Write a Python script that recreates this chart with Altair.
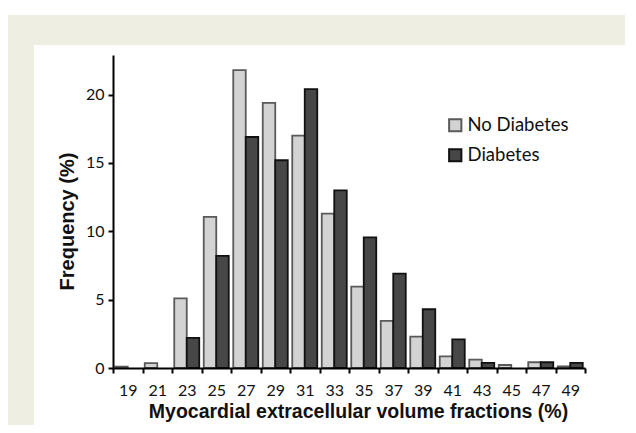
import altair as alt
import pandas as pd

bins = ["19", "21", "23", "25", "27", "29", "31", "33", "35", "37", "39", "41", "43", "45", "47", "49"]
no_diabetes = [0.1, 0.35, 5.1, 11.05, 21.8, 19.4, 17.0, 11.3, 5.95, 3.45, 2.3, 0.85, 0.62, 0.22, 0.42, 0.12]
diabetes = [0.0, 0.0, 2.2, 8.2, 16.9, 15.2, 20.4, 13.0, 9.55, 6.9, 4.3, 2.1, 0.38, 0.0, 0.42, 0.38]
groups = ["No Diabetes", "Diabetes"]

rows = []
for i, b in enumerate(bins):
    rows.append({"bin": b, "group": groups[0], "freq": no_diabetes[i]})
    rows.append({"bin": b, "group": groups[1], "freq": diabetes[i]})
df = pd.DataFrame(rows)

W, H = 472, 313

panel = alt.Chart(pd.DataFrame({"a": [0]})).mark_rect(color="white").encode(
    x=alt.value(-79), x2=alt.value(520), y=alt.value(-10), y2=alt.value(400)
)
topstrip = alt.Chart(pd.DataFrame({"a": [0]})).mark_rect(color="white").encode(
    x=alt.value(-110), x2=alt.value(530), y=alt.value(-50), y2=alt.value(-40)
)

leg = dict(title=None, orient="none", legendX=333, legendY=61,
           symbolType="square", symbolSize=150, symbolStrokeWidth=2,
           labelFont="Lato", labelFontSize=18.5, labelColor="#111",
           rowPadding=9, labelOffset=3)

bars = alt.Chart(df).transform_filter("datum.freq > 0").mark_bar(strokeWidth=1.8).encode(
    x=alt.X("bin:N", sort=bins,
            scale=alt.Scale(domain=bins, paddingInner=0, paddingOuter=0),
            axis=alt.Axis(title="Myocardial extracellular volume fractions (%)",
                          labelAngle=0, tickBand="extent", domainColor="black",
                          domainWidth=2, tickColor="black", tickWidth=2, tickSize=5,
                          labelFont="Lato", labelFontSize=16, labelColor="#111",
                          labelPadding=9, zindex=2, titleX=245,
                          titleFont="Liberation Sans", titleFontWeight="bold",
                          titleFontSize=19.5, titleColor="#111", titlePadding=4)),
    xOffset=alt.XOffset("group:N", sort=groups,
                        scale=alt.Scale(domain=groups, paddingOuter=0.18, paddingInner=0)),
    y=alt.Y("freq:Q", scale=alt.Scale(domain=[0, 22.9], nice=False),
            axis=alt.Axis(title="Frequency (%)", values=[0, 5, 10, 15, 20],
                          grid=False, domainColor="black", domainWidth=2,
                          tickColor="black", tickWidth=2, tickSize=5,
                          labelFont="Lato", labelFontSize=16, labelColor="#111",
                          labelPadding=4, zindex=2, titleY=166,
                          titleFont="Liberation Sans", titleFontWeight="bold",
                          titleFontSize=20, titleColor="#111", titlePadding=8)),
    fill=alt.Fill("group:N", sort=groups,
                  scale=alt.Scale(domain=groups, range=["#d3d3d3", "#474747"]),
                  legend=alt.Legend(**leg)),
    stroke=alt.Stroke("group:N", sort=groups,
                      scale=alt.Scale(domain=groups, range=["#5a5a5a", "#111111"]),
                      legend=alt.Legend(**leg)),
)

chart = alt.layer(topstrip, panel, bars).properties(
    width=W, height=H,
    background="#eeeee3",
    padding={"left": 105, "top": 47, "right": 40, "bottom": 57},
    autosize=alt.AutoSizeParams(type="none"),
).configure_view(stroke=None)

chart.save("out.html", embed_options={"renderer": "svg", "actions": False})
